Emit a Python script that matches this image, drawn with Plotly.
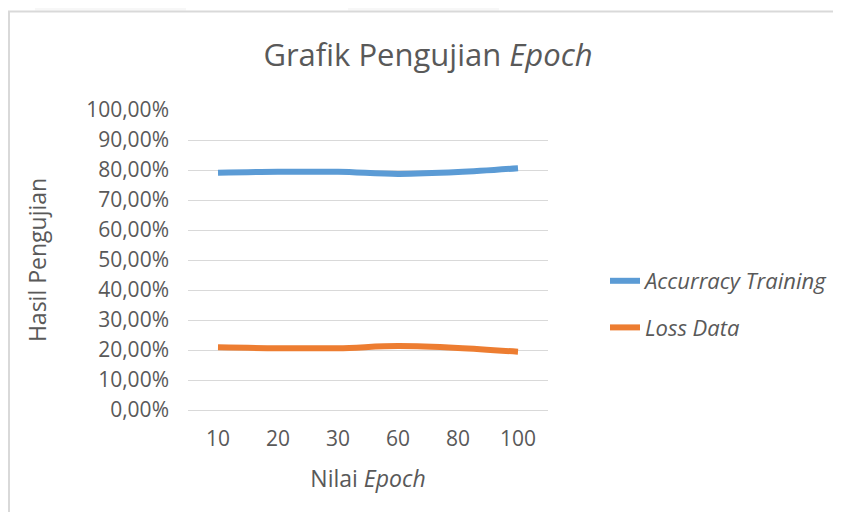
import plotly.graph_objects as go

epochs = ["10", "20", "30", "60", "80", "100"]
accuracy_training = [0.791, 0.794, 0.794, 0.787, 0.793, 0.806]
loss_data = [0.209, 0.206, 0.206, 0.213, 0.207, 0.194]
y_ticks = [0, 0.1, 0.2, 0.3, 0.4, 0.5, 0.6, 0.7, 0.8, 0.9, 1.0]

# page has an 8px body margin; figure drawn offset by 8px
OFF = 8
W, H = 841 - OFF, 520 - 2 * OFF
L, R, T, B = 188 - OFF, 548 - OFF, 110 - OFF, 410 - OFF


def px(x):
    return (x - L) / (R - L)


def py(y):
    return (B - y) / (B - T)


fig = go.Figure()
fig.add_trace(go.Scatter(
    x=epochs, y=accuracy_training, mode="lines", name="<i>Accurracy Training</i>",
    line=dict(color="#5B9BD5", width=6, shape="spline"), legendgroup="a"))
fig.add_trace(go.Scatter(
    x=epochs, y=loss_data, mode="lines", name="<i>Loss Data</i>",
    line=dict(color="#ED7D31", width=6, shape="spline"), legendgroup="b"))

shapes = [
    dict(type="rect", xref="paper", yref="paper", x0=px(35 - OFF), x1=px(186 - OFF), y0=py(0), y1=py(2.5),
         fillcolor="#f7f7f7", line=dict(width=0), layer="below"),
    dict(type="rect", xref="paper", yref="paper", x0=px(348 - OFF), x1=px(499 - OFF), y0=py(0), y1=py(2.5),
         fillcolor="#f7f7f7", line=dict(width=0), layer="below"),
    dict(type="rect", xref="paper", yref="paper", x0=px(1), x1=px(900), y0=py(600), y1=py(3.5),
         fillcolor="rgba(0,0,0,0)", line=dict(color="#d9d9d9", width=2), layer="below"),
]

fig.update_layout(
    width=W, height=H,
    margin=dict(l=L, r=W - R, t=T, b=H - B, autoexpand=False),
    paper_bgcolor="white", plot_bgcolor="white",
    font=dict(family="Open Sans", color="#595959", size=21),
    separators=",.",
    title=dict(text="Grafik Pengujian <i>Epoch</i>", x=(428 - OFF) / W, xanchor="center",
               y=1 - (55 - OFF) / H, yanchor="middle", font=dict(size=31, color="#595959")),
    xaxis=dict(
        type="category", range=[-0.5, 5.5], showgrid=False, zeroline=False,
        showline=True, linecolor="#d9d9d9", linewidth=1, ticks="",
        ticklabelstandoff=10, tickfont=dict(size=21),
        title=dict(text="Nilai <i>Epoch</i>", standoff=19, font=dict(size=23)),
    ),
    yaxis=dict(
        range=[0, 1], tickvals=y_ticks, tickformat=".2%",
        showgrid=True, gridcolor="#d9d9d9", gridwidth=1, zeroline=False,
        showline=False, ticks="", ticklabelstandoff=18, tickfont=dict(size=21),
        title=dict(text="Hasil Pengujian", standoff=33, font=dict(size=23)),
    ),
    legend=dict(xref="container", yref="container",
                x=(605 - OFF) / W, y=1 - 296.5 / H,
                xanchor="left", yanchor="middle",
                font=dict(size=22), tracegroupgap=15, traceorder="grouped",
                bgcolor="rgba(0,0,0,0)", itemwidth=30),
    shapes=shapes,
)

fig.write_html("out.html")
